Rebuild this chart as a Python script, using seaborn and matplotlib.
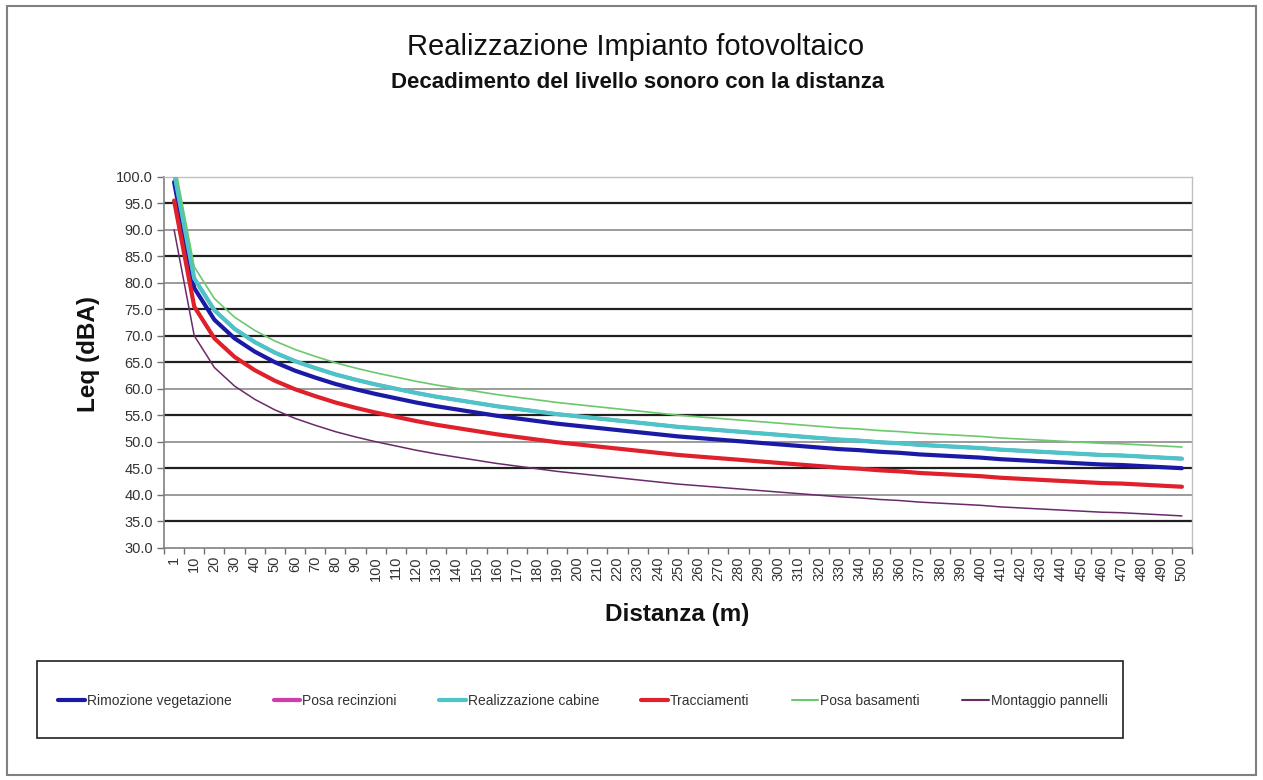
import numpy as np
import pandas as pd
import seaborn as sns
import matplotlib.pyplot as plt
from matplotlib.patches import Rectangle
from matplotlib.lines import Line2D

# distanze (m) e livelli Leq (dBA)
distanze = [1, 10, 20, 30, 40, 50, 60, 70, 80, 90, 100, 110, 120, 130, 140, 150, 160, 170,
            180, 190, 200, 210, 220, 230, 240, 250, 260, 270, 280, 290, 300, 310, 320, 330,
            340, 350, 360, 370, 380, 390, 400, 410, 420, 430, 440, 450, 460, 470, 480, 490, 500]

rimozione_vegetazione = [99.0, 79.0, 73.0, 69.5, 67.0, 65.0, 63.4, 62.1, 60.9, 59.9, 59.0, 58.2,
                         57.4, 56.7, 56.1, 55.5, 54.9, 54.4, 53.9, 53.4, 53.0, 52.6, 52.2, 51.8,
                         51.4, 51.0, 50.7, 50.4, 50.1, 49.8, 49.5, 49.2, 48.9, 48.6, 48.4, 48.1,
                         47.9, 47.6, 47.4, 47.2, 47.0, 46.7, 46.5, 46.3, 46.1, 45.9, 45.7, 45.6,
                         45.4, 45.2, 45.0]

realizzazione_cabine = [100.8, 80.8, 74.8, 71.3, 68.8, 66.8, 65.2, 63.9, 62.7, 61.7, 60.8, 60.0,
                        59.2, 58.5, 57.9, 57.3, 56.7, 56.2, 55.7, 55.2, 54.8, 54.4, 54.0, 53.6,
                        53.2, 52.8, 52.5, 52.2, 51.9, 51.6, 51.3, 51.0, 50.7, 50.4, 50.2, 49.9,
                        49.7, 49.4, 49.2, 49.0, 48.8, 48.5, 48.3, 48.1, 47.9, 47.7, 47.5, 47.4,
                        47.2, 47.0, 46.8]

# nascosta sotto "Realizzazione cabine"
posa_recinzioni = [100.8, 80.8, 74.8, 71.3, 68.8, 66.8, 65.2, 63.9, 62.7, 61.7, 60.8, 60.0,
                   59.2, 58.5, 57.9, 57.3, 56.7, 56.2, 55.7, 55.2, 54.8, 54.4, 54.0, 53.6,
                   53.2, 52.8, 52.5, 52.2, 51.9, 51.6, 51.3, 51.0, 50.7, 50.4, 50.2, 49.9,
                   49.7, 49.4, 49.2, 49.0, 48.8, 48.5, 48.3, 48.1, 47.9, 47.7, 47.5, 47.4,
                   47.2, 47.0, 46.8]

tracciamenti = [95.5, 75.5, 69.5, 66.0, 63.5, 61.5, 59.9, 58.6, 57.4, 56.4, 55.5, 54.7,
                53.9, 53.2, 52.6, 52.0, 51.4, 50.9, 50.4, 49.9, 49.5, 49.1, 48.7, 48.3,
                47.9, 47.5, 47.2, 46.9, 46.6, 46.3, 46.0, 45.7, 45.4, 45.1, 44.9, 44.6,
                44.4, 44.1, 43.9, 43.7, 43.5, 43.2, 43.0, 42.8, 42.6, 42.4, 42.2, 42.1,
                41.9, 41.7, 41.5]

posa_basamenti = [103.0, 83.0, 77.0, 73.5, 71.0, 69.0, 67.4, 66.1, 64.9, 63.9, 63.0, 62.2,
                  61.4, 60.7, 60.1, 59.5, 58.9, 58.4, 57.9, 57.4, 57.0, 56.6, 56.2, 55.8,
                  55.4, 55.0, 54.7, 54.4, 54.1, 53.8, 53.5, 53.2, 52.9, 52.6, 52.4, 52.1,
                  51.9, 51.6, 51.4, 51.2, 51.0, 50.7, 50.5, 50.3, 50.1, 49.9, 49.7, 49.6,
                  49.4, 49.2, 49.0]

montaggio_pannelli = [90.0, 70.0, 64.0, 60.5, 58.0, 56.0, 54.4, 53.1, 51.9, 50.9, 50.0, 49.2,
                      48.4, 47.7, 47.1, 46.5, 45.9, 45.4, 44.9, 44.4, 44.0, 43.6, 43.2, 42.8,
                      42.4, 42.0, 41.7, 41.4, 41.1, 40.8, 40.5, 40.2, 39.9, 39.6, 39.4, 39.1,
                      38.9, 38.6, 38.4, 38.2, 38.0, 37.7, 37.5, 37.3, 37.1, 36.9, 36.7, 36.6,
                      36.4, 36.2, 36.0]

serie = {
    "Rimozione vegetazione": rimozione_vegetazione,
    "Posa recinzioni": posa_recinzioni,
    "Realizzazione cabine": realizzazione_cabine,
    "Tracciamenti": tracciamenti,
    "Posa basamenti": posa_basamenti,
    "Montaggio pannelli": montaggio_pannelli,
}
colori = {
    "Rimozione vegetazione": "#1a1aa6",
    "Posa recinzioni": "#d23ca8",
    "Realizzazione cabine": "#4cc4c8",
    "Tracciamenti": "#e0202a",
    "Posa basamenti": "#6cc86c",
    "Montaggio pannelli": "#6a2a6a",
}
spessori = {
    "Rimozione vegetazione": 3.0,
    "Posa recinzioni": 2.5,
    "Realizzazione cabine": 3.0,
    "Tracciamenti": 3.0,
    "Posa basamenti": 1.2,
    "Montaggio pannelli": 1.1,
}

pos = np.arange(len(distanze))
df = pd.DataFrame({k: v for k, v in serie.items()})
df["pos"] = pos

sns.set_theme(style="white")
plt.rcParams["font.family"] = ["Liberation Sans", "DejaVu Sans"]

W, H = 1263, 780
fig = plt.figure(figsize=(W / 100, H / 100), dpi=100)
fig.patch.set_facecolor("white")
ax = fig.add_axes([164 / W, 1 - 547.7 / H, (1192 - 164) / W, (547.7 - 176.7) / H])

# griglia orizzontale
for v in range(35, 100, 5):
    if v % 10 == 5 or v == 70:
        ax.axhline(v, color="#202020", lw=1.6, zorder=0)
    else:
        ax.axhline(v, color="#8a8a8a", lw=1.2, zorder=0)

for nome, valori in serie.items():
    sns.lineplot(data=df, x="pos", y=nome, ax=ax, color=colori[nome],
                 lw=spessori[nome], zorder=3)

ax.set_xlim(-0.5, len(distanze) - 0.5)
ax.set_ylim(30, 100)
ax.set_yticks(np.arange(30, 100.1, 5))
ax.set_yticklabels([f"{v:.1f}" for v in np.arange(30, 100.1, 5)], fontsize=10.5, color="#333333")
ax.set_xticks(pos)
ax.set_xticklabels([str(d) for d in distanze], rotation=90, fontsize=10.5, color="#333333")
ax.set_xticks(np.arange(-0.5, len(distanze), 1), minor=True)
ax.tick_params(axis="x", which="major", length=0, pad=6)
ax.tick_params(axis="x", which="minor", length=4, width=1, color="#707070", direction="out", bottom=True)
ax.tick_params(axis="y", length=5, width=1, color="#707070", direction="out", left=True, pad=3)
ax.set_xlabel("")
ax.set_ylabel("")

for s in ["left", "bottom"]:
    ax.spines[s].set_color("#808080")
    ax.spines[s].set_linewidth(1.2)
for s in ["top", "right"]:
    ax.spines[s].set_color("#c0c0c0")
    ax.spines[s].set_linewidth(1.0)

fig.text(636 / W, 1 - 47 / H, "Realizzazione Impianto fotovoltaico", ha="center", va="center",
         fontsize=21, color="#111111")
fig.text(638 / W, 1 - 83 / H, "Decadimento del livello sonoro con la distanza", ha="center",
         va="center", fontsize=16, fontweight="bold", color="#111111")
fig.text(677 / W, 1 - 614 / H, "Distanza (m)", ha="center", va="center", fontsize=17.5,
         fontweight="bold", color="#111111")
fig.text(89 / W, 1 - 354 / H, "Leq (dBA)", ha="center", va="center", rotation=90,
         fontsize=17.5, fontweight="bold", color="#111111")

# cornice esterna e riquadro legenda
fig.patches.append(Rectangle((7 / W, 1 - 775 / H), (1256 - 7) / W, (775 - 6) / H,
                             transform=fig.transFigure, fill=False, edgecolor="#808080", lw=1.5))
fig.patches.append(Rectangle((37 / W, 1 - 738 / H), (1123 - 37) / W, (738 - 661) / H,
                             transform=fig.transFigure, fill=False, edgecolor="#202020", lw=1.2))

handles = [Line2D([], [], color=colori[n], lw=1.5 if n in
                  ("Posa basamenti", "Montaggio pannelli") else 3.0) for n in serie]
fig.legend(handles, list(serie.keys()), loc="center", bbox_to_anchor=(583 / W, 1 - 701 / H),
           ncol=6, frameon=False, fontsize=10, handlelength=1.9, handletextpad=0.15,
           columnspacing=3.05, labelcolor="#333333")

fig.savefig("out.png", dpi=100)
